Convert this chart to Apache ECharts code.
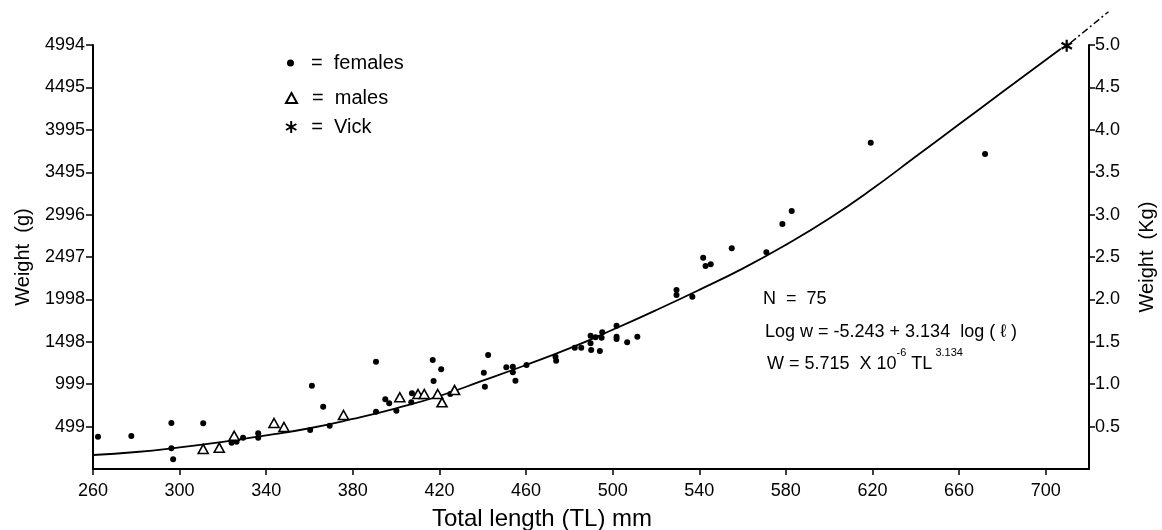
<!DOCTYPE html>
<html>
<head>
<meta charset="utf-8">
<script src="https://cdn.jsdelivr.net/npm/echarts@6/dist/echarts.min.js"></script>
<style>
html,body{margin:0;padding:0;background:#fff;}
#chart{width:1162px;height:530px;}
</style>
</head>
<body>
<div id="chart"></div>
<script>
// ---- tick labels ----
const xTicks = [260, 300, 340, 380, 420, 460, 500, 540, 580, 620, 660, 700];
const yTickLabelsG = ['499', '999', '1498', '1998', '2497', '2996', '3495', '3995', '4495', '4994'];
const yTickLabelsKg = ['0.5', '1.0', '1.5', '2.0', '2.5', '3.0', '3.5', '4.0', '4.5', '5.0'];

// ---- data: [total length (mm), weight (g)] ----
const females = [
  [262.3, 380], [277.7, 389], [296.2, 542], [310.9, 538], [296.2, 244], [297, 114],
  [324, 310], [326.3, 322], [329.3, 369], [336.3, 420], [336.3, 369], [360.3, 459],
  [361.1, 981], [366.3, 734], [369.3, 510], [390.7, 675], [390.7, 1264], [395, 821],
  [396.8, 774], [400.1, 687], [407.3, 891], [407, 785], [416.9, 1284], [420.8, 1174],
  [417.3, 1036], [425, 883], [440.5, 1134], [442.5, 1343], [441, 969], [450.9, 1198],
  [453.9, 1205], [453.9, 1139], [455.1, 1040], [460.2, 1225], [473.6, 1323], [473.9, 1276],
  [482.5, 1429], [485.5, 1429], [489.8, 1570], [489.8, 1481], [490.1, 1402], [494.1, 1390],
  [492.1, 1551], [495.2, 1610], [494.9, 1547], [501.8, 1688], [501.8, 1558], [501.8, 1531],
  [506.7, 1492], [511.4, 1558], [529.5, 2108], [529.5, 2049], [536.8, 2029], [541.8, 2489],
  [542.9, 2391], [545.3, 2411], [555, 2599], [571, 2552], [578.4, 2886], [582.7, 3039],
  [619.2, 3843], [672, 3710]
];
const males = [
  [310.9, 236], [318.3, 251], [325.2, 392], [343.6, 542], [348.2, 495], [375.7, 636],
  [401.7, 845], [410.1, 883], [413, 883], [419.2, 883], [421.2, 785], [427, 930]
];
const vick = [[709.7, 4986]];

// fitted curve
const fitCurve = [
  [260, 165], [280, 200], [300, 255], [320, 320], [340, 395], [360, 480], [380, 590],
  [400, 715], [420, 860], [440, 1040], [460, 1225], [480, 1420], [500, 1640], [520, 1870],
  [540, 2110], [560, 2360], [580, 2640], [600, 2950], [620, 3300], [640, 3680], [660, 4060],
  [680, 4440], [707, 4950]
];
// dash-dot extension of the curve past Vick's point (runs beyond the frame)
const fitExtension = [[711.5, 5020], [729, 5386]];

const FONT = '"Liberation Sans", Arial, sans-serif';
const ASTERISK = 'path://M0,-6L0,6M-5.2,-3L5.2,3M-5.2,3L5.2,-3';

// main plot frame (px) and an invisible, larger frame with the identical scale
const G = {left: 93, right: 73, top: 45, bottom: 61};
const W = 1162, H = 530;
const X0 = 260, X1 = 720, Y0 = 0, Y1 = 4994;
const X1b = 740, Y1b = 5500;
const pxPerX = (W - G.left - G.right) / (X1 - X0);
const pxPerY = (H - G.top - G.bottom) / (Y1 - Y0);
const G2 = {
  left: G.left,
  right: W - G.left - (X1b - X0) * pxPerX,
  bottom: G.bottom,
  top: H - G.bottom - (Y1b - Y0) * pxPerY
};

const chart = echarts.init(document.getElementById('chart'), null, {renderer: 'canvas'});

const legendText = {fontFamily: FONT, fontSize: 20, color: '#000'};
const option = {
  animation: false,
  backgroundColor: '#fff',
  grid: [
    Object.assign({containLabel: false, outerBoundsMode: 'none'}, G),
    Object.assign({containLabel: false, outerBoundsMode: 'none', show: false}, G2)
  ],
  legend: [
    {
      data: ['females'], orient: 'vertical', left: 282, top: 48,
      itemWidth: 7, itemHeight: 7, selectedMode: false,
      formatter: () => '=  females',
      textStyle: Object.assign({padding: [0, 0, 0, 12]}, legendText)
    },
    {
      data: ['males'], orient: 'vertical', left: 280, top: 83,
      itemWidth: 11, itemHeight: 10, selectedMode: false,
      formatter: () => '=  males',
      textStyle: Object.assign({padding: [0, 0, 0, 10]}, legendText)
    },
    {
      data: ['Vick'], orient: 'vertical', left: 280, top: 112,
      itemWidth: 12, itemHeight: 12, selectedMode: false,
      formatter: () => '=  Vick',
      textStyle: Object.assign({padding: [0, 0, 0, 9]}, legendText)
    }
  ],
  xAxis: [
    {
      type: 'value', gridIndex: 0, min: X0, max: X1,
      name: 'Total length (TL) mm', nameLocation: 'middle', nameGap: 38,
      nameTextStyle: {fontFamily: FONT, fontSize: 24, color: '#000', padding: [0, 98, 0, 0]},
      axisLine: {show: true, onZero: false, lineStyle: {color: '#000', width: 2}},
      axisTick: {show: true, length: 6, lineStyle: {color: '#000', width: 1.5}, customValues: xTicks},
      axisLabel: {customValues: xTicks, fontFamily: FONT, fontSize: 18, color: '#000', margin: 13},
      splitLine: {show: false}
    },
    {type: 'value', gridIndex: 1, min: X0, max: X1b, show: false, splitLine: {show: false}}
  ],
  yAxis: [
    {
      type: 'value', gridIndex: 0, position: 'left', min: Y0, max: Y1,
      name: 'Weight  (g)', nameLocation: 'middle', nameGap: 60, nameRotate: 90,
      nameTextStyle: {fontFamily: FONT, fontSize: 20, color: '#000'},
      axisLine: {show: true, onZero: false, lineStyle: {color: '#000', width: 2}},
      axisTick: {show: true, length: 7, lineStyle: {color: '#000', width: 1.5}, customValues: yTickLabelsG.map(Number)},
      axisLabel: {
        customValues: yTickLabelsG.map(Number),
        formatter: v => yTickLabelsG[yTickLabelsG.map(Number).indexOf(v)] || '',
        fontFamily: FONT, fontSize: 18, color: '#000', margin: 8
      },
      splitLine: {show: false}
    },
    {
      type: 'value', gridIndex: 0, position: 'right', min: 0, max: 5.0,
      name: 'Weight  (Kg)', nameLocation: 'middle', nameGap: 48, nameRotate: 90,
      nameTextStyle: {fontFamily: FONT, fontSize: 20, color: '#000'},
      axisLine: {show: true, onZero: false, lineStyle: {color: '#000', width: 2}},
      axisTick: {show: true, length: 6, lineStyle: {color: '#000', width: 1.5}, customValues: yTickLabelsKg.map(Number)},
      axisLabel: {
        customValues: yTickLabelsKg.map(Number),
        formatter: v => { const i = yTickLabelsKg.map(Number).indexOf(v); return i >= 0 ? yTickLabelsKg[i] : ''; },
        fontFamily: FONT, fontSize: 18, color: '#000', margin: 6
      },
      splitLine: {show: false}
    },
    {type: 'value', gridIndex: 1, min: Y0, max: Y1b, show: false, splitLine: {show: false}}
  ],
  graphic: [
    {type: 'text', x: 763, y: 299, style: {text: 'N  =  75', font: '18px ' + FONT, fill: '#000', verticalAlign: 'middle'}},
    {type: 'text', x: 765, y: 332, style: {text: 'Log w = -5.243 + 3.134  log ( \u2113 )', font: '18px ' + FONT, fill: '#000', verticalAlign: 'middle'}},
    {
      type: 'text', x: 767, y: 360,
      style: {
        text: '{a|W = 5.715  X 10}{s|-6}{a| TL}{s| 3.134}',
        verticalAlign: 'middle', fill: '#000',
        rich: {
          a: {fontFamily: FONT, fontSize: 18, lineHeight: 26, verticalAlign: 'bottom', fill: '#000'},
          s: {fontFamily: FONT, fontSize: 11, lineHeight: 26, verticalAlign: 'top', fill: '#000'}
        }
      }
    }
  ],
  series: [
    {
      name: 'fit', type: 'line', xAxisIndex: 0, yAxisIndex: 0, data: fitCurve, smooth: 0.5,
      showSymbol: false, silent: true, z: 2,
      lineStyle: {color: '#000', width: 1.8}
    },
    {
      name: 'fitExt', type: 'line', xAxisIndex: 1, yAxisIndex: 2, data: fitExtension,
      showSymbol: false, silent: true, clip: false, z: 2,
      lineStyle: {color: '#000', width: 1.5, type: [7, 3, 2, 3]}
    },
    {
      name: 'females', type: 'scatter', xAxisIndex: 0, yAxisIndex: 0, data: females, symbol: 'circle', symbolSize: 6, z: 4,
      itemStyle: {color: '#000', opacity: 1}
    },
    {
      name: 'males', type: 'scatter', xAxisIndex: 0, yAxisIndex: 0, data: males, symbol: 'triangle', symbolSize: [10, 9], z: 5,
      itemStyle: {color: '#fff', borderColor: '#000', borderWidth: 1.6, opacity: 1}
    },
    {
      name: 'Vick', type: 'scatter', xAxisIndex: 0, yAxisIndex: 0, data: vick, symbol: ASTERISK, symbolSize: 12, symbolKeepAspect: true, z: 5,
      itemStyle: {color: 'rgba(0,0,0,0)', borderColor: '#000', borderWidth: 2.2, opacity: 1}
    }
  ]
};
chart.setOption(option);
</script>
</body>
</html>
